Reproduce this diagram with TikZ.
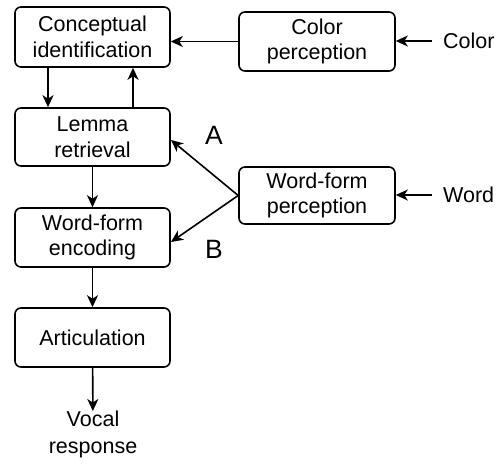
\documentclass[tikz,border=0pt]{standalone}
\usepackage{fontspec}
\setmainfont{Liberation Sans}
\usetikzlibrary{arrows.meta}
\begin{document}
\begin{tikzpicture}[x=1pt,y=-1pt,
  box/.style={draw, line width=1.6pt, rounded corners=6pt, minimum width=155pt, minimum height=58pt, inner sep=0pt, align=center, font=\fontsize{21.5}{25.5}\selectfont},
  lbl/.style={inner sep=0pt, align=center, font=\fontsize{21.5}{26.5}\selectfont},
  big/.style={inner sep=0pt, font=\fontsize{26.5}{30}\selectfont},
  arr/.style={line width=1.6pt, -{Stealth[length=12pt,width=11pt,inset=3.5pt]}}]
\useasboundingbox (0,0) rectangle (503,463);
\node[box, minimum height=60pt] (concept) at (92.5,37) {Conceptual\\identification};
\node[box] (lemma) at (92.5,137) {Lemma\\retrieval};
\node[box, minimum height=59pt] (wfenc) at (92.5,237.5) {Word-form\\encoding};
\node[box, minimum height=59pt] (artic) at (92.5,337.5) {Articulation};
\node[box, minimum width=156pt, minimum height=59pt] (color) at (317,41.5) {Color\\perception};
\node[box, minimum width=156pt, minimum height=57pt] (wfperc) at (317,195.5) {Word-form\\perception};
\node[lbl, anchor=north] (vocal) at (93,411) {Vocal\\response};
\node[lbl, anchor=west] (colorin) at (443,41) {Color};
\node[lbl, anchor=west] (wordin) at (443,195) {Word};
\node[big] (A) at (214,135) {A};
\node[big] (B) at (214,249) {B};
\coordinate (pA) at (171,140);
\coordinate (pB) at (171,242);

\draw[arr] (concept.south -| 48,0) -- (lemma.north -| 48,0);
\draw[arr] (lemma.north -| 133,0) -- (concept.south -| 133,0);
\draw[arr] (lemma) -- (wfenc);
\draw[arr] (wfenc) -- (artic);
\draw[arr] (artic) -- (vocal);
\draw[arr] (color.west) -- (color.west -| concept.east);
\draw[arr] (colorin.west) ++(-11,0) -- (color.east |- colorin.west);
\draw[arr] (wordin.west) ++(-11,0) -- (wfperc.east |- wordin.west);
\draw[arr] (wfperc.west) -- (pA);
\draw[arr] (wfperc.west) -- (pB);
\end{tikzpicture}
\end{document}
